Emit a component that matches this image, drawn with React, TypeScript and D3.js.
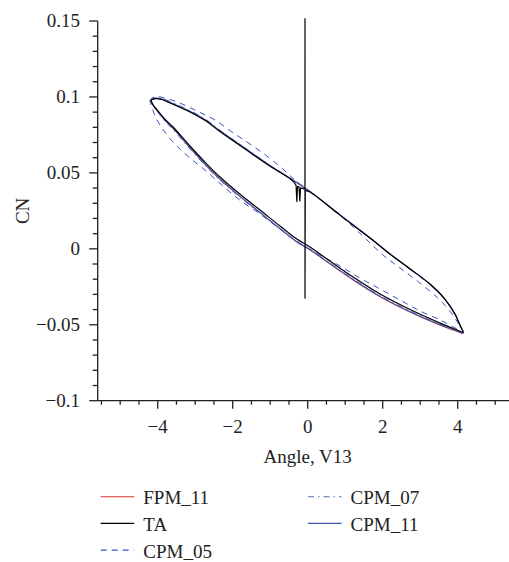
import React from "react";
import * as d3 from "d3";

// ---- data (angle, CN) ----
const TA_UPPER: [number, number][] = [
  [-4.18, 0.098], [-4.07, 0.0989], [-3.89, 0.0983], [-3.67, 0.096], [-3.14, 0.0901],
  [-2.71, 0.0841], [-2.34, 0.0772], [-1.67, 0.0657], [-1.01, 0.0545], [-0.74, 0.0505],
  [-0.47, 0.0462], [-0.36, 0.0438], [-0.31, 0.0418], [-0.29, 0.0312], [-0.27, 0.0412],
  [-0.23, 0.0407], [-0.21, 0.0315], [-0.19, 0.0402], [-0.12, 0.0396], [-0.073, 0.0392],
  [-0.072, 0.1515], [-0.072, -0.0325], [-0.065, 0.0385], [0.06, 0.0374], [0.86, 0.0222],
  [1.66, 0.0071], [2.19, -0.0034], [2.73, -0.0133], [3.26, -0.0232], [3.66, -0.0331],
  [3.93, -0.0429], [4.06, -0.0502], [4.14, -0.0548],
];
// indices in TA_UPPER between which the trace is drawn point to point (glitch region)
const TA_GLITCH_FROM = 11;
const TA_GLITCH_TO = 22;
const TA_LOWER: [number, number][] = [
  [4.14, -0.0548], [3.95, -0.0531], [3.53, -0.0489], [2.73, -0.04], [1.93, -0.0298],
  [1.21, -0.0186], [0.59, -0.008], [0.06, 0.0012], [-0.29, 0.0064], [-0.74, 0.015],
  [-1.27, 0.0255], [-1.81, 0.0361], [-2.34, 0.0473], [-2.69, 0.0558], [-3.14, 0.0677],
  [-3.59, 0.0802], [-3.81, 0.0854], [-3.99, 0.0907], [-4.13, 0.095], [-4.18, 0.098],
];
const CPM11_UPPER: [number, number][] = [
  [-4.19, 0.0978], [-4.08, 0.0992], [-3.89, 0.0987], [-3.67, 0.0965], [-3.14, 0.0906],
  [-2.71, 0.0846], [-2.34, 0.0777], [-1.67, 0.0662], [-1.01, 0.0549], [-0.47, 0.0465],
  [0.06, 0.0378], [0.86, 0.0225], [1.66, 0.0073], [2.19, -0.0032], [2.73, -0.0131],
  [3.26, -0.0232], [3.66, -0.0333], [3.93, -0.0433], [4.07, -0.0508], [4.15, -0.0553],
];
const CPM11_LOWER: [number, number][] = [
  [4.15, -0.0553], [3.95, -0.0538], [3.53, -0.05], [2.73, -0.0414], [1.93, -0.0313],
  [1.21, -0.0202], [0.59, -0.0096], [0.06, -0.0005], [-0.29, 0.0047], [-0.74, 0.0134],
  [-1.27, 0.024], [-1.81, 0.0347], [-2.34, 0.046], [-2.69, 0.0546], [-3.14, 0.0667],
  [-3.59, 0.0794], [-3.81, 0.0848], [-3.99, 0.0903], [-4.13, 0.0948], [-4.19, 0.0978],
];
const FPM11_UPPER: [number, number][] = [
  [-4.18, 0.0979], [-4.07, 0.099], [-3.89, 0.0985], [-3.67, 0.0962], [-3.14, 0.0903],
  [-2.71, 0.0843], [-2.34, 0.0774], [-1.67, 0.066], [-1.01, 0.0547], [-0.47, 0.0463],
  [0.06, 0.0376], [0.86, 0.0223], [1.66, 0.0072], [2.19, -0.0033], [2.73, -0.0133],
  [3.26, -0.0233], [3.66, -0.0334], [3.93, -0.0434], [4.07, -0.051], [4.15, -0.0556],
];
const FPM11_LOWER: [number, number][] = [
  [4.15, -0.0556], [3.95, -0.0541], [3.53, -0.0503], [2.73, -0.0417], [1.93, -0.0317],
  [1.21, -0.0206], [0.59, -0.01], [0.06, -0.0008], [-0.29, 0.0044], [-0.74, 0.0131],
  [-1.27, 0.0237], [-1.81, 0.0344], [-2.34, 0.0457], [-2.69, 0.0543], [-3.14, 0.0664],
  [-3.59, 0.0791], [-3.81, 0.0846], [-3.99, 0.0901], [-4.13, 0.0947], [-4.18, 0.0979],
];
const CPM07_UPPER: [number, number][] = [
  [-4.2, 0.0977], [-4.09, 0.0994], [-3.89, 0.099], [-3.67, 0.0969], [-3.14, 0.0911],
  [-2.71, 0.0851], [-2.34, 0.0781], [-1.67, 0.0665], [-1.01, 0.0551], [-0.47, 0.0466],
  [0.06, 0.0377], [0.86, 0.0222], [1.66, 0.0069], [2.19, -0.0036], [2.73, -0.0136],
  [3.26, -0.0236], [3.66, -0.0336], [3.93, -0.0434], [4.07, -0.0508], [4.15, -0.0553],
];
const CPM07_LOWER: [number, number][] = [
  [4.15, -0.0553], [3.95, -0.0536], [3.53, -0.0496], [2.73, -0.0409], [1.93, -0.0308],
  [1.21, -0.0198], [0.59, -0.0094], [0.06, -0.0004], [-0.29, 0.0046], [-0.74, 0.0131],
  [-1.27, 0.0235], [-1.81, 0.034], [-2.34, 0.0452], [-2.69, 0.0537], [-3.14, 0.0657],
  [-3.59, 0.0785], [-3.81, 0.0841], [-3.99, 0.0898], [-4.14, 0.0946], [-4.2, 0.0977],
];
const CPM05_UPPER: [number, number][] = [
  [-4.21, 0.0973], [-4.15, 0.0993], [-4.05, 0.1003], [-3.81, 0.0993], [-3.41, 0.096],
  [-2.95, 0.0907], [-2.47, 0.0848], [-2.02, 0.0769], [-1.54, 0.069], [-1.09, 0.0611],
  [-0.66, 0.0525], [-0.31, 0.0446], [0.06, 0.038], [0.59, 0.0275], [1.13, 0.0163],
  [1.58, 0.0058], [2.01, -0.0041], [2.46, -0.0126], [2.99, -0.0225], [3.47, -0.0324],
  [3.79, -0.041], [4.01, -0.0489], [4.14, -0.0548],
];
const CPM05_LOWER: [number, number][] = [
  [4.14, -0.0548], [3.93, -0.0521], [3.53, -0.0468], [2.99, -0.0409], [2.46, -0.0337],
  [1.93, -0.0265], [1.39, -0.0192], [0.86, -0.0113], [0.33, -0.0041], [-0.21, 0.0038],
  [-0.74, 0.013], [-1.27, 0.0229], [-1.81, 0.0321], [-2.29, 0.042], [-2.74, 0.0519],
  [-3.14, 0.0598], [-3.49, 0.0677], [-3.75, 0.0749], [-3.94, 0.0815], [-4.07, 0.0874],
  [-4.15, 0.0927], [-4.21, 0.0973],
];

const X_TICKS = [-4, -2, 0, 2, 4];
const Y_TICKS = [-0.1, -0.05, 0, 0.05, 0.1, 0.15];
const Y_TICK_LABELS = ["\u22120.1", "\u22120.05", "0", "0.05", "0.1", "0.15"];
const X_TICK_LABELS = ["\u22124", "\u22122", "0", "2", "4"];

const SERIES = [
  { name: "FPM_11", upper: FPM11_UPPER, lower: FPM11_LOWER, color: "#e0312b", dash: "", w: 1 },
  { name: "CPM_05", upper: CPM05_UPPER, lower: CPM05_LOWER, color: "#3a54c4", dash: "6,5", w: 1 },
  { name: "CPM_07", upper: CPM07_UPPER, lower: CPM07_LOWER, color: "#5670c4", dash: "6,4,1.5,4", w: 1 },
  { name: "CPM_11", upper: CPM11_UPPER, lower: CPM11_LOWER, color: "#3d55b0", dash: "", w: 1.1 },
  { name: "TA", upper: TA_UPPER, lower: TA_LOWER, color: "#000000", dash: "", w: 1.2 },
];

const LEGEND = [
  { name: "FPM_11", col: 0, row: 0 },
  { name: "TA", col: 0, row: 1 },
  { name: "CPM_05", col: 0, row: 2 },
  { name: "CPM_07", col: 1, row: 0 },
  { name: "CPM_11", col: 1, row: 1 },
];

export default function App() {
  const x = d3.scaleLinear().domain([-5.6, 5.6]).range([97.7, 517.7]);
  const y = d3.scaleLinear().domain([-0.1, 0.15]).range([400.7, 21]);
  const smooth = d3
    .line<[number, number]>()
    .x((d) => x(d[0]))
    .y((d) => y(d[1]))
    .curve(d3.curveCatmullRom.alpha(0.5));
  const straight = d3
    .line<[number, number]>()
    .x((d) => x(d[0]))
    .y((d) => y(d[1]));

  const pathFor = (s: (typeof SERIES)[number]) => {
    if (s.name === "TA") {
      const a = s.upper.slice(0, TA_GLITCH_FROM + 1);
      const b = s.upper.slice(TA_GLITCH_FROM, TA_GLITCH_TO + 1);
      const c = [...s.upper.slice(TA_GLITCH_TO), ...s.lower.slice(1)];
      return (smooth(a) || "") + (straight(b) || "") + (smooth(c) || "");
    }
    return smooth([...s.upper, ...s.lower.slice(1)]) || "";
  };

  const font = "'Liberation Serif', 'Times New Roman', serif";
  const fs = 19;

  const yMinor = d3.range(-10, 16).map((i) => i / 100).filter((v) => Math.abs(Math.round(v * 100) % 5) !== 0);
  const xMinor = d3.range(-11, 12).map((i) => i / 2).filter((v) => Math.abs(v % 2) > 1e-9);

  const axisY = 400.7;
  const axisX = 97.7;

  return (
    <svg
      width={509}
      height={562}
      style={{ position: "absolute", left: 0, top: 0, background: "#fff" }}
      fontFamily={font}
    >
      <rect width={509} height={562} fill="#fff" />
      {/* series */}
      <g fill="none">
        {SERIES.map((s) => (
          <path
            key={s.name}
            d={pathFor(s)}
            stroke={s.color}
            strokeWidth={s.w}
            strokeDasharray={s.dash || undefined}
            strokeLinejoin="round"
          />
        ))}
      </g>
      {/* axes */}
      <g stroke="#222" strokeWidth={1.3}>
        <line x1={axisX} x2={axisX} y1={y(0.15)} y2={axisY} />
        <line x1={axisX} x2={509} y1={axisY} y2={axisY} />
        {Y_TICKS.map((v) => (
          <line key={"ym" + v} x1={axisX - 8.5} x2={axisX} y1={y(v)} y2={y(v)} />
        ))}
        {yMinor.map((v) => (
          <line key={"yn" + v} x1={axisX - 5} x2={axisX} y1={y(v)} y2={y(v)} />
        ))}
        {X_TICKS.map((v) => (
          <line key={"xm" + v} x1={x(v)} x2={x(v)} y1={axisY} y2={axisY + 8} />
        ))}
        {xMinor.map((v) => (
          <line key={"xn" + v} x1={x(v)} x2={x(v)} y1={axisY} y2={axisY + 4} />
        ))}
      </g>
      <g fontSize={fs} fill="#222">
        {Y_TICKS.map((v, i) => (
          <text key={"yl" + v} x={80} y={y(v)} dy="0.33em" textAnchor="end">
            {Y_TICK_LABELS[i]}
          </text>
        ))}
        {X_TICKS.map((v, i) => (
          <text key={"xl" + v} x={x(v)} y={433} textAnchor="middle">
            {X_TICK_LABELS[i]}
          </text>
        ))}
        <text x={x(0)} y={463} textAnchor="middle">
          Angle, V13
        </text>
        <text transform={`translate(29,${(y(0.15) + axisY) / 2}) rotate(-90)`} textAnchor="middle">
          CN
        </text>
      </g>
      {/* legend */}
      <g fontSize={fs} fill="#222">
        {LEGEND.map((l) => {
          const s = SERIES.find((q) => q.name === l.name)!;
          const lx = l.col === 0 ? 100.7 : 308;
          const ly = 496.7 + l.row * 26.7;
          return (
            <g key={l.name}>
              <line
                x1={lx}
                x2={lx + 33.5}
                y1={ly}
                y2={ly}
                stroke={s.color}
                strokeWidth={1.1}
                strokeDasharray={s.dash || undefined}
              />
              <text x={lx + 42.6} y={ly + 7.5}>
                {l.name}
              </text>
            </g>
          );
        })}
      </g>
    </svg>
  );
}
